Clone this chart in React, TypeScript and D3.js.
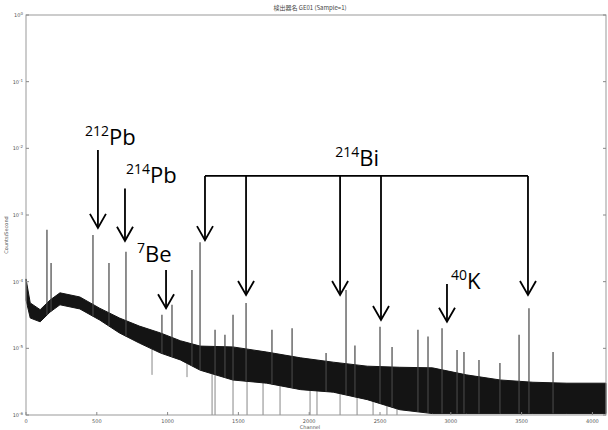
import React from 'react';
import * as d3 from 'd3';

// continuum band of the spectrum (channel, upper / lower count rate)
const bandChannels = [0, 30, 100, 170, 240, 380, 520, 660, 800, 950, 1090, 1230, 1460, 1700, 1940, 2170, 2410, 2640, 2870, 3110, 3350, 3580, 3820, 4096];
const bandUpper = [1.1e-4, 4.8e-5, 3.8e-5, 5.3e-5, 6.8e-5, 5.9e-5, 4.0e-5, 2.85e-5, 2.16e-5, 1.7e-5, 1.3e-5, 1.08e-5, 1.05e-5, 8.8e-6, 7.2e-6, 6.2e-6, 5.4e-6, 5.2e-6, 5.1e-6, 4.0e-6, 3.35e-6, 3.1e-6, 3.0e-6, 3.0e-6];
const bandLower = [5.3e-5, 2.85e-5, 2.5e-5, 3.5e-5, 4.5e-5, 3.9e-5, 2.66e-5, 1.7e-5, 1.2e-5, 8.5e-6, 6.7e-6, 4.7e-6, 3.35e-6, 3.0e-6, 2.4e-6, 2.2e-6, 1.7e-6, 1.2e-6, 1.05e-6, 1.05e-6, 1.05e-6, 1.05e-6, 1.05e-6, 1.05e-6];

// photopeaks (channel, top count rate)
const peakChannels = [148, 177, 473, 586, 706, 960, 1031, 1172, 1229, 1335, 1405, 1462, 1554, 1737, 1879, 2119, 2260, 2323, 2500, 2585, 2768, 2839, 2938, 3044, 3093, 3199, 3347, 3482, 3552, 3722];
const peakValues = [6.0e-4, 1.9e-4, 5.0e-4, 1.9e-4, 2.8e-4, 3.2e-5, 4.5e-5, 1.5e-4, 3.9e-4, 1.9e-5, 1.6e-5, 3.2e-5, 4.8e-5, 1.9e-5, 2.0e-5, 8.5e-6, 7.5e-5, 1.1e-5, 2.1e-5, 1.05e-5, 1.9e-5, 1.5e-5, 2.0e-5, 9.4e-6, 8.8e-6, 6.7e-6, 6.0e-6, 1.6e-5, 4.0e-5, 8.8e-6];

// channels dropping below the band
const dropChannels = [890, 1137, 1314, 1335, 1462, 1561, 1674, 1794, 2006, 2055, 2218, 2338, 2451, 2549, 2620];
const dropValues = [4.0e-6, 3.7e-6, 1e-6, 1e-6, 1e-6, 1e-6, 1e-6, 1e-6, 1e-6, 1e-6, 1e-6, 1e-6, 1e-6, 1e-6, 1e-6];

// annotations
const singleLabels = [
  { mass: '212', el: 'Pb', ch: 508, tip: 6.4e-4, top: 9.4e-3, dx: -13, dy: -5 },
  { mass: '214', el: 'Pb', ch: 699, tip: 4.1e-4, top: 2.5e-3, dx: 1, dy: -5 },
  { mass: '7', el: 'Be', ch: 989, tip: 4.0e-5, top: 1.5e-4, dx: -29, dy: -8 },
  { mass: '40', el: 'K', ch: 2973, tip: 2.5e-5, top: 9.2e-5, dx: 4, dy: 5 },
];
const biChannels = [1264, 1554, 2218, 2507, 3545];
const biTips = [4.2e-4, 6.3e-5, 6.3e-5, 2.66e-5, 6.3e-5];
const biBracket = 3.85e-3;

const xTicks = [0, 500, 1000, 1500, 2000, 2500, 3000, 3500, 4000];
const yTicks = [-6, -5, -4, -3, -2, -1, 0];

const W = 608;
const H = 430;
const left = 26, right = 606, top = 15, bottom = 415;

const x = d3.scaleLinear().domain([0, 4096]).range([left, right]);
const y = d3.scaleLog().domain([1e-6, 1]).range([bottom, top]).clamp(true);

const lowerAt = (ch: number) => {
  const i = d3.bisectLeft(bandChannels, ch);
  if (i <= 0) return bandLower[0];
  if (i >= bandChannels.length) return bandLower[bandLower.length - 1];
  const t = (ch - bandChannels[i - 1]) / (bandChannels[i] - bandChannels[i - 1]);
  return Math.exp(Math.log(bandLower[i - 1]) * (1 - t) + Math.log(bandLower[i]) * t);
};

const Arrow = ({ cx, y1, y2 }: { cx: number; y1: number; y2: number }) => (
  <g stroke="#000" strokeWidth={1.8} fill="none">
    <line x1={cx} x2={cx} y1={y1} y2={y2} />
    <polyline points={`${cx - 8},${y2 - 14} ${cx},${y2} ${cx + 8},${y2 - 14}`} />
  </g>
);

const Iso = ({ tx, ty, mass, el }: { tx: number; ty: number; mass: string; el: string }) => (
  <text x={tx} y={ty} fontFamily="'Open Sans', 'Liberation Sans', sans-serif" fontSize={22} fill="#000">
    <tspan fontSize={14} dy={-9}>{mass}</tspan>
    <tspan dy={9}>{el}</tspan>
  </text>
);

export default function App() {
  const band = d3.area<number>()
    .x((_, i) => x(bandChannels[i]))
    .y0((_, i) => y(bandLower[i]))
    .y1((_, i) => y(bandUpper[i]));

  const bracketY = y(biBracket);

  return (
    <svg width={W} height={H} style={{ position: 'absolute', left: 0, top: 0, background: '#fff' }}
      fontFamily="'DejaVu Sans', sans-serif">
      {/* title */}
      <text x={310} y={10} fontSize={6} fill="#444" textAnchor="middle"
        fontFamily="'Noto Sans CJK JP', sans-serif">検出器名 GE01 (Sample=1)</text>

      {/* spectrum */}
      {dropChannels.map((c, i) => (
        <line key={'d' + i} x1={x(c)} x2={x(c)} y1={y(lowerAt(c))} y2={y(dropValues[i])}
          stroke="#888" strokeWidth={1} />
      ))}
      <path d={band(bandChannels) || ''} fill="#141414" stroke="#141414" strokeWidth={1} />
      {peakChannels.map((c, i) => (
        <line key={'p' + i} x1={x(c)} x2={x(c)} y1={y(lowerAt(c))} y2={y(peakValues[i])}
          stroke="#444" strokeWidth={1.2} />
      ))}

      {/* frame */}
      <rect x={left} y={top} width={right - left} height={bottom - top} fill="none" stroke="#999" strokeWidth={1} />
      {yTicks.map(e => (
        <g key={'y' + e}>
          <line x1={left} x2={left + 3} y1={y(10 ** e)} y2={y(10 ** e)} stroke="#888" />
          <line x1={right - 3} x2={right} y1={y(10 ** e)} y2={y(10 ** e)} stroke="#888" />
          <text x={left - 3} y={y(10 ** e) + 2} fontSize={5} fill="#555" textAnchor="end">
            10<tspan fontSize={4} dy={-2}>{e}</tspan>
          </text>
        </g>
      ))}
      {xTicks.map(t => (
        <g key={'x' + t}>
          <line x1={x(t)} x2={x(t)} y1={bottom} y2={bottom - 3} stroke="#888" />
          <text x={x(t)} y={bottom + 8} fontSize={5} fill="#555" textAnchor="middle">{t}</text>
        </g>
      ))}
      <text x={310} y={429} fontSize={5} fill="#555" textAnchor="middle">Channel</text>
      <text transform={`translate(8,235) rotate(-90)`} fontSize={5} fill="#555" textAnchor="middle">Counts/Second</text>

      {/* annotations */}
      {singleLabels.map(a => (
        <g key={a.mass + a.el}>
          <Arrow cx={x(a.ch)} y1={y(a.top)} y2={y(a.tip)} />
          <Iso tx={x(a.ch) + a.dx} ty={y(a.top) + a.dy} mass={a.mass} el={a.el} />
        </g>
      ))}
      <line x1={x(biChannels[0])} x2={x(biChannels[biChannels.length - 1])} y1={bracketY} y2={bracketY}
        stroke="#000" strokeWidth={1.8} />
      {biChannels.map((c, i) => (
        <Arrow key={'bi' + i} cx={x(c)} y1={bracketY} y2={y(biTips[i])} />
      ))}
      <Iso tx={x(2170) + 2} ty={bracketY - 10} mass="214" el="Bi" />
    </svg>
  );
}
